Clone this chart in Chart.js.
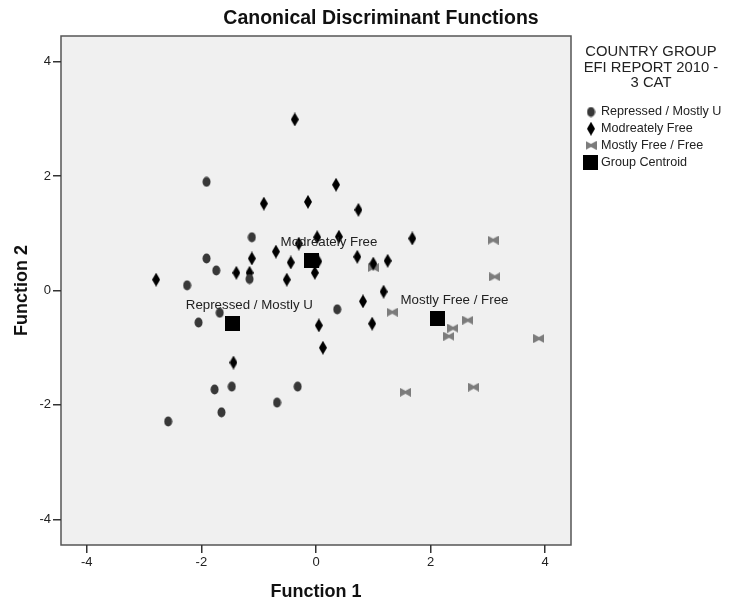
<!DOCTYPE html>
<html lang="en">
<head>
    <meta charset="UTF-8">
    <title>Canonical Discriminant Functions</title>
    <style>
        body {
            margin: 0;
            background: #ffffff;
        }
    </style>
</head>
<body>
    <canvas id="cdfChart" width="731" height="599"></canvas>

    <script src="https://cdn.jsdelivr.net/npm/chart.js"></script>
    <script>
        // group scores (Function 1, Function 2)
        const repressedX = [-1.91, -1.12, -1.91, -1.74, -1.16, -2.25, 0.37, -2.05, -1.68, -1.77, -1.47, -1.65, -2.58, -0.68, -0.32];
        const repressedY = [1.90, 0.93, 0.56, 0.35, 0.20, 0.09, -0.33, -0.56, -0.39, -1.73, -1.68, -2.13, -2.29, -1.96, -1.68];

        const moderateX = [-0.37, 0.35, -0.91, -0.14, 0.74, 1.68, 0.02, 0.40, -0.30, -0.70, -1.12, -0.44, -1.39, -1.16, -2.79, -0.51, -0.02, 0.04, 0.72, 1.25, 1.00, 1.18, 0.82, 0.05, 0.98, 0.12, -1.44];
        const moderateY = [2.99, 1.85, 1.52, 1.55, 1.41, 0.91, 0.93, 0.94, 0.82, 0.68, 0.56, 0.49, 0.31, 0.31, 0.19, 0.19, 0.31, 0.51, 0.59, 0.52, 0.47, -0.02, -0.19, -0.61, -0.58, -1.00, -1.26];

        const freeX = [1.00, 1.33, 2.39, 2.32, 2.65, 3.89, 1.56, 2.75, 3.09, 3.12];
        const freeY = [0.40, -0.38, -0.66, -0.80, -0.52, -0.84, -1.78, -1.69, 0.88, 0.24];

        const centroidLabels = ['Repressed / Mostly U', 'Modreately Free', 'Mostly Free / Free'];
        const centroidX = [-1.46, -0.07, 2.12];
        const centroidY = [-0.58, 0.52, -0.49];

        const tickValues = [-4, -2, 0, 2, 4];
        const legendTitle = ['COUNTRY GROUP', 'EFI REPORT 2010 -', '3 CAT'];
        const legendLabels = ['Repressed / Mostly U', 'Modreately Free', 'Mostly Free / Free', 'Group Centroid'];

        const FONT = 'Arial, "Liberation Sans", sans-serif';

        function toPoints(xs, ys) {
            return xs.map((x, i) => ({ x: x, y: ys[i] }));
        }

        // little canvases for the marker shapes
        function makeCircle() {
            const c = document.createElement('canvas');
            c.width = 9; c.height = 11;
            const g = c.getContext('2d');
            g.fillStyle = '#383838';
            g.beginPath();
            g.ellipse(4.5, 5.5, 4, 5, 0, 0, Math.PI * 2);
            g.fill();
            return c;
        }
        function makeDiamond() {
            const c = document.createElement('canvas');
            c.width = 8; c.height = 14;
            const g = c.getContext('2d');
            g.fillStyle = '#000000';
            g.beginPath();
            g.moveTo(4, 0); g.lineTo(8, 7); g.lineTo(4, 14); g.lineTo(0, 7);
            g.closePath();
            g.fill();
            return c;
        }
        function makeBowtie() {
            const c = document.createElement('canvas');
            c.width = 11; c.height = 9;
            const g = c.getContext('2d');
            g.fillStyle = '#7c7c7c';
            g.beginPath();
            g.moveTo(0, 0); g.lineTo(5.5, 3); g.lineTo(11, 0); g.lineTo(11, 9);
            g.lineTo(5.5, 6); g.lineTo(0, 9);
            g.closePath();
            g.fill();
            return c;
        }
        function makeSquare() {
            const c = document.createElement('canvas');
            c.width = 15; c.height = 15;
            const g = c.getContext('2d');
            g.fillStyle = '#000000';
            g.fillRect(0, 0, 15, 15);
            return c;
        }

        const circleImg = makeCircle();
        const diamondImg = makeDiamond();
        const bowtieImg = makeBowtie();
        const squareImg = makeSquare();

        // grey plot area with a frame
        const plotBackground = {
            id: 'plotBackground',
            beforeDraw(chart) {
                const { ctx, chartArea: a } = chart;
                ctx.save();
                ctx.fillStyle = '#f0f0f0';
                ctx.fillRect(a.left, a.top, a.right - a.left, a.bottom - a.top);
                ctx.strokeStyle = '#555555';
                ctx.lineWidth = 1.5;
                ctx.strokeRect(a.left, a.top, a.right - a.left, a.bottom - a.top);
                ctx.restore();
            }
        };

        // centroid names, title and the legend block on the right
        const extraText = {
            id: 'extraText',
            afterDatasetsDraw(chart) {
                const { ctx, scales } = chart;
                ctx.save();
                ctx.fillStyle = '#222222';
                ctx.font = '13.3px ' + FONT;
                ctx.textAlign = 'center';
                ctx.textBaseline = 'middle';
                centroidLabels.forEach((lbl, i) => {
                    const px = scales.x.getPixelForValue(centroidX[i]);
                    const py = scales.y.getPixelForValue(centroidY[i]);
                    ctx.fillText(lbl, px + 17, py - 18);
                });
                ctx.restore();
            },
            afterDraw(chart) {
                const ctx = chart.ctx;
                ctx.save();
                ctx.fillStyle = '#111111';
                ctx.textAlign = 'center';
                ctx.textBaseline = 'middle';
                ctx.font = 'bold 19.5px ' + FONT;
                ctx.fillText('Canonical Discriminant Functions', 381, 19);

                ctx.fillStyle = '#222222';
                ctx.font = '14.8px ' + FONT;
                legendTitle.forEach((t, i) => ctx.fillText(t, 651, 52 + i * 15.5));

                ctx.textAlign = 'left';
                ctx.font = '12.6px ' + FONT;
                const icons = [circleImg, diamondImg, bowtieImg, squareImg];
                legendLabels.forEach((t, i) => {
                    const y = 112 + i * 16.7;
                    const img = icons[i];
                    const cx = i === 3 ? 590 : 591;
                    ctx.drawImage(img, cx - img.width / 2, y - img.height / 2);
                    ctx.fillText(t, 601, y);
                });
                ctx.restore();
            }
        };

        const axisCommon = {
            type: 'linear',
            min: -4.45,
            max: 4.45,
            afterBuildTicks: (scale) => {
                scale.ticks = tickValues.map(v => ({ value: v }));
            },
            grid: {
                drawOnChartArea: false,
                drawTicks: true,
                tickLength: 8,
                lineWidth: 1.5,
                color: '#333333'
            },
            border: { display: false },
            ticks: {
                color: '#222222',
                padding: 2,
                font: { family: FONT, size: 13 }
            }
        };

        const ctx = document.getElementById('cdfChart').getContext('2d');
        const cdfChart = new Chart(ctx, {
            type: 'scatter',
            data: {
                datasets: [
                    { label: 'Repressed / Mostly U', data: toPoints(repressedX, repressedY), pointStyle: circleImg },
                    { label: 'Modreately Free', data: toPoints(moderateX, moderateY), pointStyle: diamondImg },
                    { label: 'Mostly Free / Free', data: toPoints(freeX, freeY), pointStyle: bowtieImg },
                    { label: 'Group Centroid', data: toPoints(centroidX, centroidY), pointStyle: squareImg }
                ]
            },
            options: {
                responsive: false,
                animation: false,
                devicePixelRatio: 1,
                layout: { padding: { top: 36, right: 160, left: 0, bottom: 0 } },
                plugins: {
                    legend: { display: false },
                    tooltip: { enabled: false },
                    title: { display: false }
                },
                scales: {
                    x: Object.assign({}, axisCommon, {
                        position: 'bottom',
                        afterFit: (scale) => { scale.height = 54; },
                        title: {
                            display: true,
                            text: 'Function 1',
                            color: '#111111',
                            padding: { top: 0, bottom: -2 },
                            font: { family: FONT, size: 18, weight: 'bold', lineHeight: 1 }
                        }
                    }),
                    y: Object.assign({}, axisCommon, {
                        position: 'left',
                        afterFit: (scale) => { scale.width = 61; },
                        title: {
                            display: true,
                            text: 'Function 2',
                            color: '#111111',
                            padding: { top: 13, bottom: 0 },
                            font: { family: FONT, size: 18, weight: 'bold', lineHeight: 1 }
                        }
                    })
                }
            },
            plugins: [plotBackground, extraText]
        });
    </script>
</body>
</html>
